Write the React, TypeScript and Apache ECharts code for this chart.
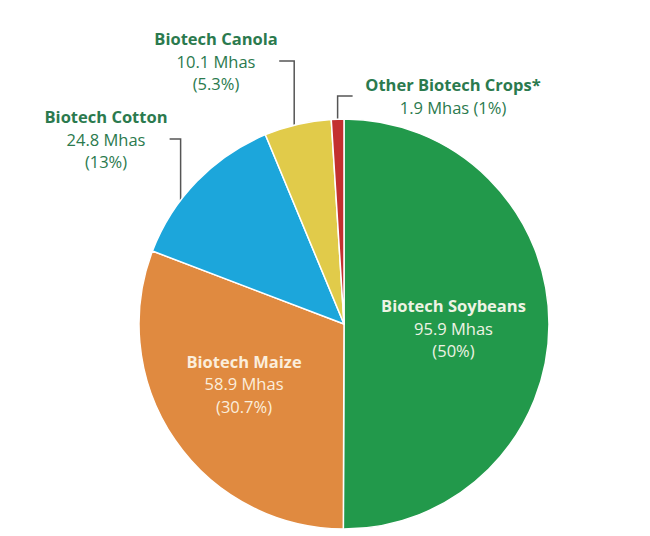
import React, { useEffect, useRef } from "react";
import * as echarts from "echarts";

const categories = ["Biotech Soybeans", "Biotech Maize", "Biotech Cotton", "Biotech Canola", "Other Biotech Crops*"];
const values = [95.9, 58.9, 24.8, 10.1, 1.9];
const percentLabels = ["50%", "30.7%", "13%", "5.3%", "1%"];
const colors = ["#22994b", "#e08a40", "#1ca6db", "#e1cb4a", "#c3302f"];

const CX = 344;
const CY = 324;
const R = 205;

// label placement for the outside labels (by index)
const outerCfg: Record<number, { x: number; y: number; dx: number; shift: number }> = {
  2: { x: 106, y: 139, dx: -11, shift: -7 },
  3: { x: 216, y: 61, dx: -15, shift: -1 },
  4: { x: 453, y: 96, dx: 15, shift: 0 },
};
const innerCfg: Record<number, { dx: number; dy: number }> = {
  0: { dx: 4, dy: 4 },
  1: { dx: -13, dy: 0 },
};

export default function App() {
  const ref = useRef<HTMLDivElement>(null);
  useEffect(() => {
    if (!ref.current) return;
    const chart = echarts.init(ref.current, undefined, { renderer: "svg" });
    const font = "'Open Sans', 'Noto Sans', sans-serif";
    const data = categories.map((name, i) => {
      const inner = i < 2;
      const txtColor = inner ? (i === 0 ? "#eef3e4" : "#fbeedc") : "#2b7a4e";
      return {
        name,
        value: values[i],
        itemStyle: { color: colors[i] },
        label: {
          show: true,
          position: inner ? "inside" : "outside",
          formatter:
            i === 4
              ? `{b|${name}}\n{v|${values[i]} Mhas (${percentLabels[i]})}`
              : `{b|${name}}\n{v|${values[i]} Mhas}\n{v|(${percentLabels[i]})}`,
          rich: {
            b: { fontFamily: font, fontWeight: "bold", fontSize: 16.5, color: txtColor, lineHeight: 22.6, align: "center" },
            v: { fontFamily: font, fontSize: 16.5, color: txtColor, lineHeight: 22.6, align: "center" },
          },
        },
        labelLine: inner
          ? { show: false }
          : { show: true, length: 10, length2: 10, lineStyle: { color: "#555", width: 1.5 } },
      };
    });
    chart.setOption({
      animation: false,
      backgroundColor: "#ffffff",
      series: [
        {
          type: "pie",
          center: [CX, CY],
          radius: R,
          startAngle: 90,
          clockwise: true,
          avoidLabelOverlap: false,
          itemStyle: { borderColor: "#ffffff", borderWidth: 1.5 },
          data,
          labelLayout: (params: any) => {
            const i = params.dataIndex;
            if (innerCfg[i]) return { dx: innerCfg[i].dx, dy: innerCfg[i].dy };
            const cfg = outerCfg[i];
            const pts = params.labelLinePoints;
            if (!cfg || !pts) return {};
            let [ex, ey] = pts[0];
            const a = Math.atan2(ey - CY, ex - CX) + (cfg.shift * Math.PI) / 180;
            ex = CX + R * Math.cos(a);
            ey = CY + R * Math.sin(a);
            return {
              x: cfg.x,
              y: cfg.y,
              align: "center",
              verticalAlign: "middle",
              labelLinePoints: [
                [ex, ey],
                [ex, cfg.y],
                [ex + cfg.dx, cfg.y],
              ],
            };
          },
        },
      ],
    });
    return () => chart.dispose();
  }, []);
  return <div ref={ref} style={{ position: "absolute", left: 0, top: 0, width: 650, height: 536 }} />;
}
